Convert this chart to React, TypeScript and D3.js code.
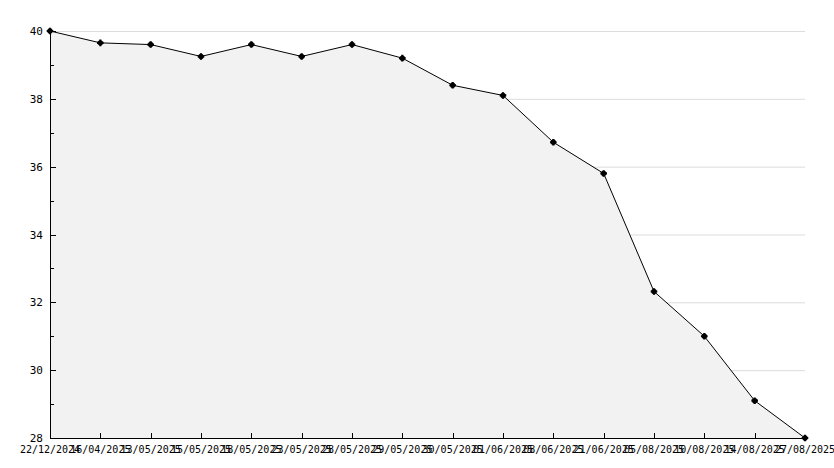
import * as React from "react";
import * as d3 from "d3";

const dates = [
  "22/12/2024", "16/04/2025", "13/05/2025", "15/05/2025", "18/05/2025", "23/05/2025",
  "28/05/2025", "29/05/2025", "30/05/2025", "01/06/2025", "08/06/2025", "21/06/2025",
  "05/08/2025", "10/08/2025", "14/08/2025", "27/08/2025",
];
const values = [40, 39.65, 39.6, 39.25, 39.6, 39.25, 39.6, 39.2, 38.4, 38.1, 36.72, 35.8, 32.32, 31.0, 29.1, 28];
const majorTicks = [28, 30, 32, 34, 36, 38, 40];
const minorTicks = [29, 31, 33, 35, 37, 39];
const gridTicks = [30, 32, 34, 36, 38, 40];

const App = () => {
  const width = 834;
  const height = 468;
  const left = 50;
  const right = 805;
  const top = 31;
  const bottom = 438;

  const x = d3.scalePoint<number>().domain(d3.range(dates.length)).range([left, right]);
  const y = d3.scaleLinear().domain([28, 40]).range([bottom, top]);

  const line = d3.line<number>().x((_, i) => x(i)!).y((d) => y(d));
  const area = d3.area<number>().x((_, i) => x(i)!).y0(bottom).y1((d) => y(d));
  const font = "'DejaVu Sans Mono', monospace";

  return (
    <svg
      width={width}
      height={height}
      viewBox={`0 0 ${width} ${height}`}
      style={{ position: "absolute", left: 0, top: 0, background: "#fff" }}
    >
      {gridTicks.map((v) => (
        <line key={`g${v}`} x1={left} x2={right} y1={y(v) + 0.5} y2={y(v) + 0.5} stroke="#dcdcdc" strokeWidth={1} />
      ))}

      <path d={area(values) ?? ""} fill="#f2f2f2" />
      <path d={line(values) ?? ""} fill="none" stroke="#000" strokeWidth={1} />

      {/* axes */}
      <line x1={left + 0.5} x2={left + 0.5} y1={top} y2={bottom} stroke="#000" />
      <line x1={left} x2={right} y1={bottom + 0.5} y2={bottom + 0.5} stroke="#000" />

      {majorTicks.map((v) => (
        <g key={`m${v}`}>
          <line x1={left} x2={left + 6} y1={Math.round(y(v)) + 0.5} y2={Math.round(y(v)) + 0.5} stroke="#000" />
          <text x={43} y={y(v) + 4} textAnchor="end" fontSize={11} fontFamily={font} fill="#000">
            {v}
          </text>
        </g>
      ))}
      {minorTicks.map((v) => (
        <line key={`n${v}`} x1={left} x2={left + 4} y1={Math.round(y(v)) + 0.5} y2={Math.round(y(v)) + 0.5} stroke="#000" />
      ))}

      {dates.map((d, i) => (
        <g key={`x${i}`}>
          {i > 0 && i < dates.length - 1 && (
            <line x1={Math.round(x(i)!) + 0.5} x2={Math.round(x(i)!) + 0.5} y1={bottom - 5} y2={bottom} stroke="#000" />
          )}
          <text x={x(i)!} y={bottom + 15} textAnchor="middle" fontSize={10} fontFamily={font} fill="#000">
            {d}
          </text>
        </g>
      ))}

      {values.map((v, i) => (
        <g key={`p${i}`} transform={`translate(${x(i)},${y(v)})`}>
          <circle r={2.7} fill="#000" />
          <path d={d3.symbol().type(d3.symbolCross).size(24)() ?? ""} fill="#000" />
        </g>
      ))}
    </svg>
  );
};

export default App;
